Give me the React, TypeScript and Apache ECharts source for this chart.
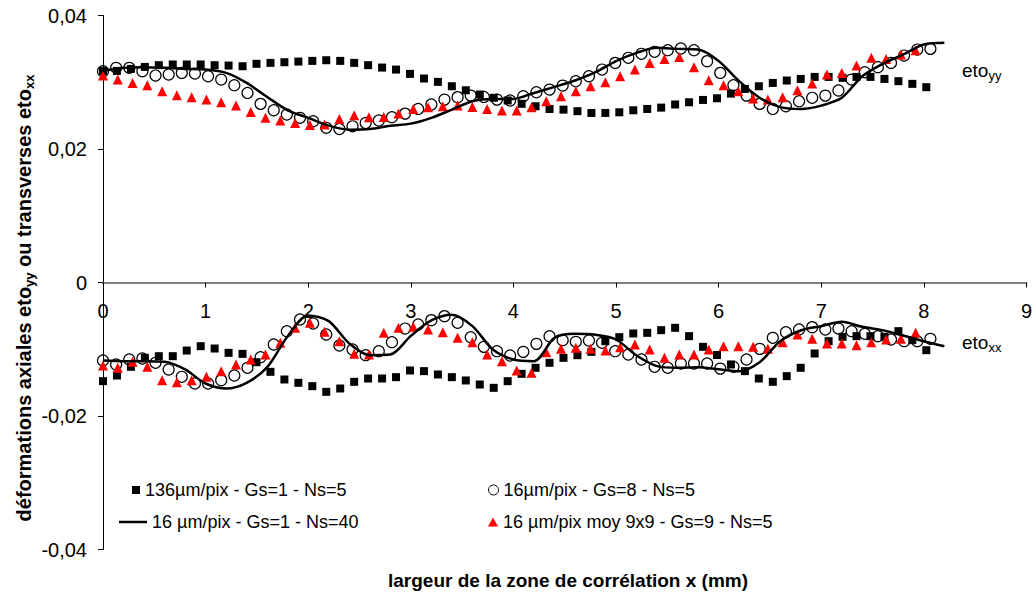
import React, { useEffect, useRef } from "react";
import * as echarts from "echarts";

// Series names (legend)
const NAME_SQ = "136µm/pix - Gs=1 - Ns=5";
const NAME_CI = "16µm/pix - Gs=8 - Ns=5";
const NAME_LN = "16 µm/pix - Gs=1 - Ns=40";
const NAME_TR = "16 µm/pix moy 9x9 - Gs=9 - Ns=5";

// spacing of the correlation points along x (mm) = Gs * pixel size
const STEP_SQ = 0.136;
const STEP_CI = 0.128;
const STEP_TR = 0.144;

// values in units of 1e-3
const sqYY = [31.7, 31.7, 32.0, 32.3, 32.56, 32.66, 32.66, 32.66, 32.56, 32.5, 32.4, 32.76, 32.9, 33.0, 33.1, 33.2, 33.3, 33.2, 32.9, 32.56, 32.2, 31.9, 31.26, 30.56, 30.06, 29.4, 28.8, 28.16, 27.67, 27.27, 26.77, 26.4, 26.0, 25.9, 25.67, 25.4, 25.4, 25.5, 25.8, 26.0, 26.2, 26.67, 27.0, 27.35, 27.6, 28.3, 29.0, 29.4, 29.9, 30.26, 30.5, 30.8, 30.8, 30.66, 30.8, 30.8, 30.5, 30.16, 29.76, 29.26];
const sqXX = [-14.78, -13.93, -12.63, -11.29, -11.04, -11.04, -10.19, -9.54, -9.89, -10.54, -10.69, -11.94, -13.38, -14.53, -15.03, -15.53, -16.38, -15.88, -14.88, -14.38, -14.38, -14.18, -13.18, -13.28, -13.78, -14.18, -14.68, -15.28, -15.78, -14.78, -13.68, -12.78, -12.03, -11.29, -10.89, -10.39, -8.79, -8.19, -7.64, -7.54, -7.14, -6.79, -8.04, -9.64, -10.86, -12.28, -13.28, -14.38, -14.88, -14.03, -12.78, -10.64, -8.79, -8.14, -8.04, -8.04, -8.14, -7.29, -8.64, -10.14];

const ciYY = [31.66, 32.16, 32.16, 31.66, 31.0, 31.16, 31.4, 31.3, 30.9, 30.4, 29.56, 28.4, 26.76, 25.8, 25.17, 24.67, 24.17, 23.17, 23.0, 23.4, 23.9, 24.27, 24.77, 25.3, 26.0, 26.67, 27.4, 27.77, 28.0, 27.8, 27.4, 27.27, 27.9, 28.5, 28.9, 29.5, 30.16, 30.9, 31.9, 32.9, 33.66, 34.26, 34.56, 34.8, 35.06, 34.8, 33.16, 31.4, 29.56, 28.0, 26.76, 26.0, 26.4, 27.16, 27.67, 28.0, 28.76, 30.4, 31.5, 32.26, 32.9, 34.0, 34.9, 35.0];
const ciXX = [-11.69, -12.28, -11.54, -11.39, -12.03, -13.03, -14.13, -15.13, -15.13, -14.63, -13.93, -12.78, -11.19, -9.29, -7.29, -5.54, -6.14, -7.79, -9.44, -10.04, -10.89, -10.29, -8.94, -6.9, -6.29, -5.64, -5.04, -6.04, -8.19, -9.64, -10.29, -10.94, -10.39, -9.19, -8.04, -8.64, -8.89, -8.69, -9.04, -10.29, -10.79, -11.54, -12.63, -12.78, -12.13, -12.13, -12.13, -12.9, -12.63, -11.54, -9.94, -8.29, -7.44, -7.04, -6.69, -7.04, -6.89, -7.29, -7.69, -8.04, -8.54, -8.79, -8.79, -8.44];

const trYY = [31.0, 30.4, 29.9, 29.56, 28.66, 28.06, 27.77, 27.4, 27.0, 26.5, 25.56, 24.67, 24.27, 23.9, 23.6, 23.66, 24.5, 25.07, 24.77, 24.8, 25.3, 26.0, 26.27, 26.4, 26.5, 26.3, 26.0, 25.77, 25.77, 26.27, 27.16, 27.9, 28.66, 29.4, 30.0, 30.9, 31.9, 32.9, 33.5, 33.8, 32.26, 30.3, 29.56, 28.66, 27.57, 27.4, 27.77, 28.8, 29.8, 31.16, 31.4, 32.5, 33.66, 33.5, 34.16, 34.8];
const trXX = [-12.43, -12.78, -11.89, -12.63, -14.63, -14.93, -14.63, -14.13, -13.28, -12.28, -11.54, -10.79, -9.04, -6.79, -6.04, -7.39, -8.79, -10.69, -10.79, -7.54, -6.79, -6.64, -7.04, -7.44, -8.29, -8.94, -10.79, -11.79, -13.18, -13.53, -10.44, -9.94, -9.79, -9.94, -10.19, -9.69, -9.29, -10.04, -11.29, -10.79, -10.79, -10.04, -9.54, -9.54, -9.64, -9.94, -8.94, -7.79, -8.44, -9.14, -9.14, -9.39, -8.94, -8.54, -8.44, -7.54];

const lnX = [0, 0.2, 0.4, 0.6, 0.8, 1.0, 1.2, 1.4, 1.6, 1.8, 2.0, 2.2, 2.4, 2.6, 2.8, 3.0, 3.2, 3.4, 3.6, 3.8, 4.0, 4.2, 4.4, 4.6, 4.8, 5.0, 5.2, 5.4, 5.6, 5.8, 6.0, 6.2, 6.4, 6.6, 6.8, 7.0, 7.2, 7.4, 7.6, 7.8, 8.0, 8.2];
const lnYY = [31.66, 32.16, 32.26, 32.16, 32.0, 31.9, 31.4, 29.9, 27.8, 25.8, 24.67, 23.5, 22.9, 23.0, 23.5, 23.8, 24.67, 25.9, 27.16, 27.5, 27.5, 28.4, 29.3, 30.26, 31.5, 33.16, 34.4, 35.15, 35.0, 34.9, 33.2, 30.16, 27.67, 26.27, 26.0, 26.5, 27.67, 30.9, 32.76, 34.16, 35.66, 35.9];
const lnXX = [-11.69, -11.79, -11.79, -11.89, -13.03, -15.13, -15.88, -15.03, -12.68, -8.04, -4.94, -5.79, -9.14, -10.89, -10.79, -8.0, -5.69, -4.84, -6.54, -10.04, -11.54, -11.79, -8.29, -7.69, -7.84, -8.54, -10.94, -12.53, -12.78, -12.68, -13.0, -13.28, -11.94, -8.79, -7.19, -6.54, -5.89, -6.64, -7.14, -7.94, -8.79, -9.54];

const FONT = "'Liberation Sans', Arial, sans-serif";

const GRID_TOP = 15.5;
const GRID_BOTTOM = 49.5;
const CHART_H = 599;

const stepped = (vals: number[], step: number) =>
  vals.map((v, i) => [+(i * step).toFixed(4), v / 1000]);
const paired = (xs: number[], vals: number[]) => vals.map((v, i) => [xs[i], v / 1000]);

const fmtY = (v: number) => {
  if (Math.abs(v) < 1e-9) return "0";
  return v.toFixed(2).replace(".", ",");
};

const sqStyle = { symbol: "rect", symbolSize: 8, itemStyle: { color: "#000", opacity: 1 } };
const ciStyle = {
  symbol: "circle",
  symbolSize: 11,
  itemStyle: { color: "rgba(255,255,255,0)", borderColor: "#000", borderWidth: 1.2, opacity: 1 },
};
const trStyle = { symbol: "triangle", symbolSize: 10, itemStyle: { color: "#ff0000", opacity: 1 } };
const lnStyle = {
  symbol: "none",
  showSymbol: false,
  smooth: 0.3,
  lineStyle: { color: "#000", width: 2.5 },
  itemStyle: { color: "#000" },
};

const legendText = { fontSize: 18, fontFamily: FONT, color: "#000" };

export default function App() {
  const ref = useRef<HTMLDivElement>(null);
  useEffect(() => {
    if (!ref.current) return;
    const chart = echarts.init(ref.current, null, { renderer: "svg" });
    const plotH = CHART_H - GRID_TOP - GRID_BOTTOM;
    const option: any = {
      animation: false,
      backgroundColor: "#fff",
      textStyle: { fontFamily: FONT },
      grid: { left: 103, top: GRID_TOP, right: 7, bottom: GRID_BOTTOM, containLabel: false },
      xAxis: {
        type: "value",
        min: 0,
        max: 9,
        interval: 1,
        position: "bottom",
        offset: -plotH / 2,
        axisLine: { onZero: false, lineStyle: { color: "#808080", width: 2 } },
        axisTick: { show: true, length: 5, lineStyle: { color: "#000", width: 1 } },
        axisLabel: { fontSize: 20, color: "#000", margin: 18, fontFamily: FONT },
        splitLine: { show: false },
      },
      yAxis: {
        type: "value",
        min: -0.04,
        max: 0.04,
        interval: 0.02,
        axisLine: { show: true, lineStyle: { color: "#000", width: 1 } },
        axisTick: { show: true, length: 5, lineStyle: { color: "#000", width: 1 } },
        axisLabel: { fontSize: 20, color: "#000", margin: 16, fontFamily: FONT, formatter: fmtY },
        splitLine: { show: false },
      },
      legend: [
        { data: [NAME_SQ], left: 132, top: 481, padding: 0, itemWidth: 8, itemHeight: 8, textStyle: legendText },
        {
          data: [{ name: NAME_LN, icon: "rect" }], left: 119, top: 513, padding: 0, itemWidth: 28, itemHeight: 2.5,
          textStyle: legendText, itemStyle: { color: "#000" },
        },
        {
          data: [NAME_CI], left: 488, top: 481, padding: 0, itemWidth: 10, itemHeight: 10, textStyle: legendText,
          itemStyle: { color: "rgba(255,255,255,0)", borderColor: "#000", borderWidth: 1 },
        },
        { data: [NAME_TR], left: 488, top: 513, padding: 0, itemWidth: 10, itemHeight: 9, textStyle: legendText },
      ],
      series: [
        { name: NAME_SQ, type: "scatter", data: stepped(sqYY, STEP_SQ), ...sqStyle },
        { name: NAME_SQ, type: "scatter", data: stepped(sqXX, STEP_SQ), ...sqStyle },
        { name: NAME_CI, type: "scatter", data: stepped(ciYY, STEP_CI), ...ciStyle },
        { name: NAME_CI, type: "scatter", data: stepped(ciXX, STEP_CI), ...ciStyle },
        { name: NAME_LN, type: "line", data: paired(lnX, lnYY), ...lnStyle },
        { name: NAME_LN, type: "line", data: paired(lnX, lnXX), ...lnStyle },
        { name: NAME_TR, type: "scatter", data: stepped(trYY, STEP_TR), ...trStyle },
        { name: NAME_TR, type: "scatter", data: stepped(trXX, STEP_TR), ...trStyle },
      ],
      graphic: [
        {
          type: "text",
          x: 568,
          y: 580,
          style: {
            text: "largeur de la zone de corrélation x (mm)",
            font: `bold 19px ${FONT}`,
            fill: "#000",
            align: "center",
            verticalAlign: "middle",
            textAlign: "center",
            textVerticalAlign: "middle",
          },
        },
        {
          type: "text",
          x: 24,
          y: 298,
          rotation: Math.PI / 2,
          style: {
            text: "{b|déformations axiales eto}{s|yy}{b| ou transverses eto}{s|xx}",
            fill: "#000",
            align: "center",
            verticalAlign: "middle",
            textAlign: "center",
            textVerticalAlign: "middle",
            rich: {
              b: { fontSize: 20, fontWeight: "bold", fontFamily: FONT, fill: "#000", lineHeight: 24 },
              s: { fontSize: 13, fontWeight: "bold", fontFamily: FONT, fill: "#000", verticalAlign: "bottom", lineHeight: 14 },
            },
          },
        },
        {
          type: "text",
          x: 962,
          y: 70,
          style: {
            text: "{b|eto}{s|yy}",
            fill: "#000",
            align: "left",
            verticalAlign: "middle",
            textAlign: "left",
            textVerticalAlign: "middle",
            rich: {
              b: { fontSize: 19, fontFamily: FONT, fill: "#000", lineHeight: 24 },
              s: { fontSize: 13, fontFamily: FONT, fill: "#000", verticalAlign: "bottom", lineHeight: 14 },
            },
          },
        },
        {
          type: "text",
          x: 962,
          y: 342,
          style: {
            text: "{b|eto}{s|xx}",
            fill: "#000",
            align: "left",
            verticalAlign: "middle",
            textAlign: "left",
            textVerticalAlign: "middle",
            rich: {
              b: { fontSize: 19, fontFamily: FONT, fill: "#000", lineHeight: 24 },
              s: { fontSize: 13, fontFamily: FONT, fill: "#000", verticalAlign: "bottom", lineHeight: 14 },
            },
          },
        },
      ],
    };
    chart.setOption(option);
    return () => chart.dispose();
  }, []);
  return (
    <div
      ref={ref}
      style={{ position: "fixed", left: 0, top: 0, width: 1035, height: 599, background: "#fff" }}
    />
  );
}
